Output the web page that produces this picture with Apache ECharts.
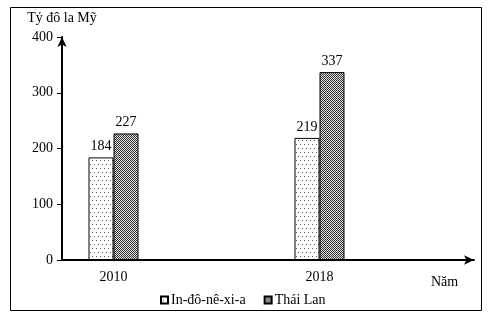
<!DOCTYPE html>
<html>
<head>
<meta charset="utf-8">
<script src="https://cdn.jsdelivr.net/npm/echarts@6/dist/echarts.min.js"></script>
<style>
html,body{margin:0;padding:0;background:#fff;}
#c{width:488px;height:320px;}
</style>
</head>
<body>
<div id="c"></div>
<script>
var years = [2010, 2018];
var seriesNames = ['In-đô-nê-xi-a', 'Thái Lan'];
var indonesia = [184, 219];
var thailand = [227, 337];
var yTicks = [0, 100, 200, 300, 400];
var yAxisName = 'Tỷ đô la Mỹ';
var xAxisName = 'Năm';

function dotPattern() {
  var c = document.createElement('canvas');
  c.width = 4; c.height = 8;
  var g = c.getContext('2d');
  g.fillStyle = '#fff'; g.fillRect(0, 0, 4, 8);
  g.fillStyle = '#555';
  g.fillRect(0, 0, 1, 1);
  g.fillRect(2, 4, 1, 1);
  return c;
}
function checkPattern() {
  var c = document.createElement('canvas');
  c.width = 2; c.height = 2;
  var g = c.getContext('2d');
  g.fillStyle = '#e0e0e0'; g.fillRect(0, 0, 2, 2);
  g.fillStyle = '#333';
  g.fillRect(0, 0, 1, 1);
  g.fillRect(1, 1, 1, 1);
  return c;
}

var font = "'Liberation Serif', 'Times New Roman', serif";
var chart = echarts.init(document.getElementById('c'), null, {renderer: 'canvas'});
function mk(vals) { return years.map(function (y, i) { return [y, vals[i]]; }); }

chart.setOption({
  animation: false,
  backgroundColor: '#fff',
  textStyle: {fontFamily: font, color: '#000'},
  grid: {left: 62, right: 14, top: 37, bottom: 60},
  legend: {
    left: 155, top: 288,
    itemWidth: 7, itemHeight: 7, itemGap: 18,
    icon: 'rect',
    textStyle: {fontFamily: font, fontSize: 14, color: '#000', padding: [0, 0, 0, -2]},
    data: seriesNames
  },
  xAxis: {
    type: 'value', min: 2008, max: 2024, interval: 2,
    axisLine: {show: true, lineStyle: {color: '#000', width: 2}, symbol: ['none', 'arrow'], symbolSize: [7, 10]},
    axisTick: {show: false},
    splitLine: {show: false},
    axisLabel: {
      margin: 10, fontFamily: font, fontSize: 14, color: '#000',
      formatter: function (v) { return years.indexOf(v) >= 0 ? String(v) : ''; }
    }
  },
  yAxis: {
    type: 'value', min: yTicks[0], max: yTicks[yTicks.length - 1], interval: 100,
    name: yAxisName, nameLocation: 'end', nameGap: 12,
    nameTextStyle: {fontFamily: font, fontSize: 14, color: '#000'},
    axisLine: {show: true, lineStyle: {color: '#000', width: 2}, symbol: ['none', 'arrow'], symbolSize: [7, 10]},
    axisTick: {show: true, inside: false, length: 5, lineStyle: {color: '#000', width: 1}},
    splitLine: {show: false},
    axisLabel: {margin: 9, fontFamily: font, fontSize: 14, color: '#000'}
  },
  series: [
    {
      name: seriesNames[0], type: 'bar', data: mk(indonesia),
      barWidth: 25, barGap: '0%',
      itemStyle: {color: {image: dotPattern(), repeat: 'repeat'}, borderColor: '#000', borderWidth: 1},
      label: {show: true, position: 'top', distance: 4, fontFamily: font, fontSize: 14, color: '#000'}
    },
    {
      name: seriesNames[1], type: 'bar', data: mk(thailand),
      barWidth: 25, barGap: '0%',
      itemStyle: {color: {image: checkPattern(), repeat: 'repeat'}, borderColor: '#000', borderWidth: 1},
      label: {show: true, position: 'top', distance: 4, fontFamily: font, fontSize: 14, color: '#000'}
    }
  ],
  graphic: [
    {type: 'rect', shape: {x: 10.5, y: 7.5, width: 471, height: 303}, style: {fill: 'none', stroke: '#000', lineWidth: 1}, silent: true},
    {type: 'text', left: 431, top: 275, style: {text: xAxisName, font: '14px ' + font, fill: '#000'}}
  ]
});
</script>
</body>
</html>
